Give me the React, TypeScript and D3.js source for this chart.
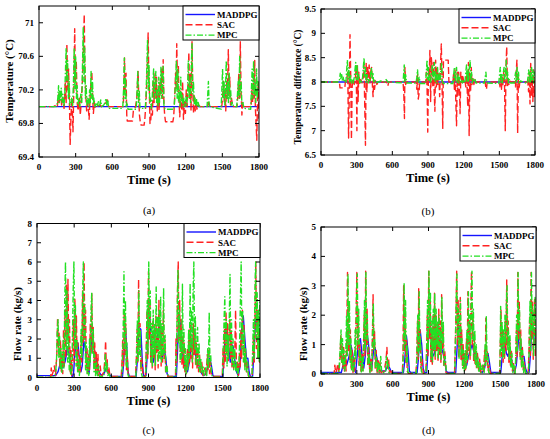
import * as d3 from 'd3';

type Pt = [number, number];

const timeTicks = [0, 300, 600, 900, 1200, 1500, 1800];
const legendNames = ['MADDPG', 'SAC', 'MPC'];

// (a) supply temperature
const tempTicks = [69.4, 69.8, 70.2, 70.6, 71];
const aMADDPG: Pt[] = [[0, 70], [1640, 70], [1650, 70.01], [1660, 70], [1800, 70]];
const aSAC: Pt[] = [
  [0, 70], [120, 70], [140, 70.02], [150, 70.0], [160, 70.15], [165, 70.05], [175, 70.18], [185, 70.02], [195, 70.1], [205, 69.98],
  [215, 70.3], [222, 70.05], [228, 70.75], [235, 70.2], [242, 70.45], [250, 69.98], [255, 69.55], [262, 69.9], [270, 70.1], [278, 69.7],
  [285, 70.2], [292, 70.93], [298, 70.3], [305, 70.55], [312, 70.05], [320, 69.95], [330, 70.1], [338, 69.9], [345, 70.05], [355, 70.3],
  [362, 70.6], [370, 71.1], [376, 70.4], [382, 70.15], [390, 69.95], [400, 70.05], [410, 69.85], [418, 70.1], [425, 70.3], [432, 70.42],
  [438, 70.15], [445, 69.92], [452, 70.05], [460, 69.98], [470, 70.0], [500, 70.02], [510, 70.0], [550, 70.05], [560, 70.08], [570, 70.0],
  [690, 70.0], [695, 70.3], [700, 70.58], [705, 70.2], [712, 70.4], [718, 69.9], [722, 69.83], [765, 69.83], [772, 69.95], [790, 70.0],
  [800, 70.1], [806, 70.3], [811, 70.42], [816, 70.1], [822, 69.9], [830, 69.8], [836, 69.78], [860, 69.78], [866, 69.85], [875, 70.05],
  [882, 70.3], [888, 70.6], [893, 70.88], [898, 70.4], [903, 70.2], [908, 69.8], [915, 69.85], [920, 70.0], [928, 69.9], [935, 70.3],
  [942, 70.05], [950, 70.4], [956, 70.1], [962, 70.35], [968, 69.95], [975, 70.2], [982, 69.95], [990, 70.3], [997, 70.15], [1005, 70.45],
  [1011, 70.1], [1016, 70.56], [1022, 70.05], [1028, 69.9], [1035, 69.82], [1095, 69.82], [1102, 69.88], [1110, 70.1], [1117, 70.4], [1122, 70.2],
  [1127, 70.75], [1133, 70.3], [1140, 70.5], [1146, 70.05], [1152, 69.88], [1160, 70.2], [1167, 69.95], [1175, 70.3], [1182, 69.85], [1190, 70.05],
  [1198, 69.92], [1205, 70.2], [1212, 70.0], [1220, 70.3], [1226, 70.65], [1232, 70.1], [1238, 70.4], [1244, 69.95], [1252, 70.78], [1258, 70.2],
  [1264, 69.92], [1270, 70.15], [1278, 69.95], [1285, 70.08], [1292, 69.97], [1300, 70.02], [1320, 70.0], [1380, 70.0], [1388, 70.05], [1395, 70.0],
  [1495, 70.0], [1502, 70.1], [1510, 70.3], [1516, 70.05], [1522, 70.2], [1528, 69.95], [1535, 70.3], [1541, 70.1], [1549, 70.68], [1555, 70.15],
  [1561, 70.35], [1567, 70.02], [1575, 70.1], [1585, 70.0], [1620, 70.0], [1628, 70.15], [1635, 70.4], [1641, 70.1], [1647, 70.78], [1653, 70.2],
  [1660, 69.9], [1667, 70.05], [1675, 70.0], [1735, 70.0], [1742, 70.2], [1748, 70.05], [1755, 70.35], [1761, 70.1], [1765, 70.55], [1770, 70.0],
  [1776, 69.8], [1782, 69.6], [1788, 70.1], [1794, 70.3], [1800, 69.85],
];
const aMPC: Pt[] = [
  [0, 70], [140, 70], [148, 70.02], [155, 70.12], [160, 70.25], [165, 70.05], [170, 70.2], [176, 70.08], [182, 70.22], [188, 70.05],
  [195, 70.15], [202, 70.0], [210, 70.1], [216, 70.4], [222, 70.7], [228, 70.3], [234, 70.55], [240, 70.1], [247, 70.3], [253, 70.02],
  [260, 70.05], [268, 70.1], [275, 70.0], [282, 70.3], [288, 70.7], [294, 70.2], [300, 70.6], [306, 70.1], [312, 70.25], [318, 70.02],
  [326, 70.1], [334, 70.0], [342, 70.15], [350, 70.05], [356, 70.5], [362, 70.95], [368, 70.3], [374, 70.7], [380, 70.1], [386, 70.25],
  [392, 70.02], [400, 70.1], [408, 70.0], [414, 70.2], [420, 70.05], [426, 70.42], [432, 70.1], [438, 70.3], [444, 70.02], [450, 70.1],
  [458, 70.0], [468, 70.05], [476, 70.0], [486, 70.06], [495, 70.0], [505, 70.08], [512, 70.0], [530, 70.02], [540, 70.05], [548, 70.1],
  [555, 70.02], [562, 70.08], [570, 69.98], [685, 69.98], [692, 70.2], [698, 70.58], [703, 70.1], [708, 70.35], [714, 70.0], [720, 70.05],
  [728, 69.97], [795, 69.97], [802, 70.15], [808, 70.42], [814, 70.05], [820, 70.2], [826, 69.98], [870, 69.98], [876, 70.15], [882, 70.45],
  [888, 70.8], [894, 70.2], [900, 70.5], [906, 70.05], [912, 70.1], [918, 69.98], [926, 70.1], [932, 70.3], [938, 70.45], [944, 70.1],
  [950, 70.3], [956, 70.42], [962, 70.05], [968, 70.2], [974, 70.0], [980, 70.35], [986, 70.05], [992, 70.2], [998, 70.48], [1004, 70.1],
  [1010, 70.3], [1016, 70.48], [1022, 70.02], [1030, 69.97], [1105, 69.97], [1112, 70.15], [1118, 70.3], [1124, 70.55], [1130, 70.1], [1136, 70.45],
  [1142, 70.05], [1148, 70.2], [1154, 70.0], [1160, 70.35], [1166, 70.05], [1172, 70.15], [1178, 70.0], [1186, 70.1], [1194, 70.0], [1202, 70.12],
  [1210, 70.02], [1216, 70.2], [1222, 70.55], [1228, 70.1], [1234, 70.3], [1240, 70.05], [1246, 70.5], [1252, 70.75], [1258, 70.15], [1264, 70.3],
  [1270, 70.02], [1276, 70.12], [1282, 70.02], [1288, 70.1], [1294, 70.0], [1302, 70.05], [1312, 70.0], [1375, 70.0], [1381, 70.15], [1386, 70.3],
  [1391, 70.05], [1398, 70.0], [1490, 69.97], [1496, 70.2], [1502, 70.45], [1508, 70.1], [1514, 70.3], [1520, 70.02], [1526, 70.2], [1532, 70.55],
  [1538, 70.1], [1544, 70.3], [1550, 70.05], [1556, 70.4], [1562, 70.1], [1568, 70.2], [1574, 70.02], [1582, 70.05], [1592, 70.0], [1618, 70.0],
  [1624, 70.15], [1630, 70.3], [1636, 70.1], [1642, 70.6], [1648, 70.15], [1654, 70.3], [1660, 70.02], [1668, 70.05], [1676, 69.98], [1732, 69.97],
  [1738, 70.2], [1744, 70.45], [1750, 70.1], [1756, 70.55], [1762, 70.15], [1768, 70.3], [1774, 70.05], [1780, 70.45], [1786, 70.1], [1792, 70.3],
  [1800, 70.2],
];

// (b) temperature difference
const diffTicks = [6.5, 7, 7.5, 8, 8.5, 9, 9.5];
const bMADDPG: Pt[] = [[0, 8], [1800, 8]];
const bSAC: Pt[] = [
  [0, 8], [155, 8], [160, 7.88], [200, 7.88], [205, 8.0], [215, 8.05], [225, 8.2], [232, 6.85], [238, 7.8], [244, 8.97],
  [250, 8.1], [256, 6.82], [262, 7.9], [270, 8.05], [280, 7.95], [290, 8.1], [296, 8.3], [302, 7.0], [306, 8.35], [312, 7.6],
  [318, 8.2], [326, 7.95], [335, 8.05], [345, 7.98], [355, 8.1], [362, 8.35], [368, 7.5], [374, 6.7], [380, 8.4], [386, 7.8],
  [392, 8.3], [398, 8.1], [405, 8.35], [412, 7.98], [420, 8.25], [426, 8.3], [432, 7.95], [438, 7.7], [444, 8.05], [450, 7.85],
  [458, 8.02], [470, 7.95], [480, 8.0], [550, 8.0], [556, 7.95], [562, 7.92], [570, 8.0], [690, 8.0], [696, 7.8], [702, 7.25],
  [706, 8.3], [712, 7.95], [720, 8.0], [800, 8.0], [806, 7.85], [812, 8.15], [818, 7.65], [824, 7.75], [830, 8.0], [880, 8.0],
  [886, 8.2], [892, 7.9], [898, 6.97], [904, 8.3], [910, 8.1], [916, 8.65], [922, 7.6], [928, 8.5], [934, 8.3], [940, 7.9],
  [946, 8.4], [952, 7.8], [958, 7.4], [964, 8.45], [970, 7.9], [976, 8.3], [982, 7.95], [990, 8.2], [998, 7.7], [1006, 8.4],
  [1012, 8.78], [1018, 8.0], [1024, 7.05], [1030, 8.45], [1070, 8.45], [1076, 8.0], [1110, 8.0], [1116, 8.2], [1122, 7.85], [1128, 8.25],
  [1134, 7.6], [1140, 7.1], [1146, 8.2], [1152, 7.7], [1158, 8.2], [1164, 7.95], [1170, 7.35], [1176, 8.2], [1184, 7.95], [1192, 8.15],
  [1200, 8.0], [1210, 8.05], [1218, 7.9], [1226, 8.15], [1234, 7.5], [1240, 8.4], [1246, 6.9], [1252, 8.2], [1258, 7.8], [1264, 8.3],
  [1270, 7.95], [1278, 8.1], [1286, 7.95], [1294, 8.05], [1302, 8.0], [1380, 8.0], [1386, 7.9], [1392, 7.85], [1398, 8.0], [1500, 8.0],
  [1506, 7.9], [1512, 8.15], [1518, 7.85], [1524, 8.1], [1530, 7.95], [1538, 8.25], [1544, 7.9], [1550, 7.0], [1556, 8.3], [1562, 8.72],
  [1568, 7.9], [1574, 8.1], [1580, 7.95], [1590, 8.02], [1600, 8.0], [1630, 8.0], [1636, 7.9], [1642, 8.2], [1648, 8.45], [1654, 6.95],
  [1660, 8.1], [1666, 7.85], [1672, 8.0], [1740, 8.0], [1746, 7.8], [1752, 8.2], [1758, 7.55], [1764, 8.38], [1770, 7.7], [1776, 8.1],
  [1782, 7.6], [1788, 8.25], [1794, 7.7], [1800, 8.1],
];
const bMPC: Pt[] = [
  [0, 8], [150, 8], [156, 8.05], [162, 8.18], [168, 8.05], [174, 8.15], [180, 8.02], [186, 8.1], [194, 8.0], [202, 8.05],
  [210, 8.0], [216, 8.25], [222, 8.45], [228, 8.05], [234, 8.3], [240, 8.0], [248, 8.15], [256, 7.98], [264, 8.05], [272, 7.98],
  [280, 8.1], [286, 8.25], [292, 8.4], [298, 8.05], [304, 8.35], [310, 8.02], [318, 8.15], [326, 7.98], [334, 8.05], [342, 8.0],
  [350, 8.1], [356, 8.3], [362, 8.5], [368, 8.1], [374, 8.3], [380, 8.0], [388, 8.15], [396, 7.98], [404, 8.05], [412, 8.0],
  [418, 8.2], [424, 8.3], [430, 8.05], [436, 8.2], [442, 8.0], [450, 8.05], [460, 7.98], [480, 8.0], [500, 8.02], [540, 8.0],
  [548, 8.05], [556, 8.02], [564, 8.0], [690, 7.98], [696, 8.2], [700, 8.35], [706, 8.0], [712, 8.15], [720, 7.98], [800, 7.98],
  [806, 8.1], [812, 8.25], [818, 8.0], [826, 8.1], [834, 7.97], [880, 7.97], [886, 8.2], [892, 8.45], [898, 8.05], [904, 8.3],
  [910, 8.0], [916, 8.15], [922, 7.98], [930, 8.2], [936, 8.35], [942, 8.05], [948, 8.2], [954, 8.4], [960, 8.0], [966, 8.2],
  [972, 7.98], [980, 8.3], [986, 8.05], [994, 8.2], [1000, 7.98], [1008, 8.25], [1014, 8.4], [1020, 8.02], [1028, 7.97], [1110, 7.97],
  [1116, 8.15], [1122, 8.3], [1128, 8.0], [1134, 8.25], [1140, 8.3], [1146, 8.0], [1152, 8.15], [1158, 7.98], [1166, 8.1], [1172, 8.0],
  [1180, 8.05], [1190, 7.98], [1200, 8.05], [1210, 7.98], [1218, 8.2], [1224, 8.35], [1230, 8.0], [1236, 8.25], [1242, 8.02], [1248, 8.3],
  [1254, 8.45], [1260, 8.05], [1266, 8.2], [1272, 7.98], [1280, 8.08], [1288, 8.0], [1296, 8.05], [1304, 7.98], [1375, 7.98], [1381, 8.1],
  [1387, 8.2], [1393, 8.0], [1400, 7.98], [1495, 7.97], [1502, 8.15], [1508, 8.3], [1514, 8.0], [1520, 8.15], [1526, 7.98], [1534, 8.2],
  [1540, 8.3], [1546, 8.05], [1552, 8.2], [1558, 8.45], [1564, 8.05], [1570, 8.2], [1576, 7.98], [1584, 8.05], [1594, 7.98], [1625, 7.98],
  [1631, 8.1], [1637, 8.2], [1643, 8.0], [1649, 8.3], [1655, 8.05], [1661, 8.2], [1667, 7.98], [1676, 8.02], [1735, 7.97], [1741, 8.1],
  [1747, 8.25], [1753, 8.0], [1759, 8.2], [1765, 7.98], [1771, 8.3], [1777, 8.05], [1783, 8.25], [1789, 7.98], [1795, 8.2], [1800, 8.05],
];

// (c) flow rate, first loop
const flowTicksC = [0, 1, 2, 3, 4, 5, 6, 7, 8];
const cMADDPG: Pt[] = [
  [0, 0.1], [150, 0.1], [170, 0.3], [190, 0.8], [210, 0.5], [230, 0.9], [245, 1.6], [260, 1.2], [275, 0.3], [285, 0.0],
  [295, 0.2], [305, 1.2], [315, 1.8], [330, 1.8], [345, 0.8], [355, 0.3], [365, 0.6], [378, 1.9], [390, 1.5], [405, 0.6],
  [420, 0.2], [435, 1.5], [445, 2.3], [455, 1.7], [470, 1.2], [485, 0.7], [500, 0.3], [520, 0.1], [540, 0.2], [560, 0.5],
  [575, 0.3], [590, 0.1], [610, 0.05], [690, 0.05], [700, 0.8], [712, 2.7], [725, 1.5], [735, 0.3], [745, 0.05], [800, 0.05],
  [810, 0.9], [822, 2.6], [838, 2.5], [850, 0.8], [860, 0.1], [880, 0.1], [890, 1.2], [902, 3.5], [912, 3.0], [925, 1.2],
  [940, 0.8], [955, 1.5], [970, 2.0], [985, 2.8], [998, 2.2], [1010, 1.0], [1025, 1.5], [1040, 1.0], [1050, 0.2], [1060, 0.05],
  [1125, 0.05], [1135, 1.5], [1145, 3.0], [1158, 2.8], [1170, 1.5], [1185, 0.8], [1200, 0.4], [1215, 0.3], [1230, 0.8], [1245, 1.8],
  [1258, 2.0], [1270, 1.4], [1285, 1.0], [1300, 0.8], [1315, 0.4], [1330, 0.2], [1345, 0.1], [1365, 0.2], [1380, 0.6], [1395, 1.0],
  [1408, 0.6], [1420, 0.1], [1430, 0.05], [1500, 0.05], [1510, 1.2], [1522, 2.5], [1535, 2.2], [1548, 1.5], [1560, 0.8], [1572, 1.7],
  [1585, 1.6], [1598, 0.8], [1610, 0.3], [1625, 0.1], [1640, 0.6], [1652, 2.5], [1665, 3.2], [1678, 2.0], [1690, 1.0], [1702, 1.0],
  [1712, 0.3], [1722, 0.05], [1740, 0.05], [1752, 1.5], [1765, 3.0], [1778, 2.8], [1790, 2.2], [1800, 2.5],
];
const cSAC: Pt[] = [
  [0, 0], [110, 0], [115, 0.5], [120, 0.1], [130, 0.3], [140, 0.6], [150, 0.1], [160, 1.2], [166, 3.1], [172, 1.5],
  [178, 2.3], [184, 0.5], [190, 1.9], [196, 0.3], [202, 1.2], [208, 0.2], [214, 2.5], [220, 0.6], [226, 3.5], [232, 1.0],
  [238, 4.8], [244, 2.0], [250, 5.1], [256, 1.5], [262, 3.0], [268, 0.3], [274, 1.5], [280, 0.1], [288, 1.0], [294, 3.0],
  [300, 0.8], [306, 4.1], [312, 1.5], [318, 3.2], [324, 0.6], [330, 1.8], [336, 0.3], [344, 1.2], [350, 0.2], [356, 2.2],
  [362, 0.8], [368, 4.5], [374, 1.8], [380, 6.0], [386, 2.0], [392, 3.5], [398, 0.5], [404, 1.5], [410, 0.2], [418, 1.2],
  [424, 0.4], [430, 2.8], [436, 1.2], [442, 4.4], [448, 1.5], [454, 2.6], [460, 0.5], [466, 1.8], [472, 0.3], [478, 1.3],
  [484, 0.2], [492, 1.2], [498, 0.1], [510, 0.6], [520, 0.05], [540, 0.3], [548, 1.0], [554, 1.9], [560, 0.4], [566, 1.0],
  [572, 0.2], [580, 0.5], [590, 0.05], [680, 0.05], [686, 0.8], [692, 2.0], [698, 0.6], [704, 3.5], [710, 1.2], [716, 2.8],
  [722, 0.4], [728, 1.2], [736, 0.05], [795, 0.05], [802, 1.0], [808, 2.5], [814, 0.8], [820, 5.1], [826, 1.5], [832, 2.8],
  [838, 0.4], [846, 1.0], [856, 0.05], [875, 0.05], [882, 1.5], [888, 3.5], [894, 1.0], [900, 5.5], [906, 2.0], [912, 4.0],
  [918, 0.8], [924, 2.2], [930, 0.5], [936, 3.0], [942, 1.0], [948, 2.5], [954, 0.4], [960, 3.2], [966, 1.2], [972, 2.0],
  [978, 0.5], [984, 4.0], [990, 1.5], [996, 3.0], [1002, 0.6], [1008, 2.5], [1014, 0.8], [1020, 3.5], [1026, 1.0], [1032, 2.0],
  [1038, 0.3], [1046, 0.6], [1056, 0.05], [1118, 0.05], [1122, 2.0], [1128, 0.8], [1134, 4.5], [1140, 6.0], [1146, 2.0], [1152, 4.0],
  [1158, 1.0], [1164, 3.0], [1170, 0.6], [1176, 2.2], [1182, 0.5], [1188, 1.8], [1194, 0.3], [1200, 1.0], [1206, 0.2], [1214, 1.5],
  [1220, 0.5], [1226, 2.5], [1232, 0.8], [1238, 2.8], [1244, 1.0], [1250, 2.0], [1256, 0.5], [1262, 2.8], [1268, 1.2], [1274, 2.5],
  [1280, 0.6], [1286, 1.8], [1292, 0.4], [1298, 1.5], [1304, 0.3], [1312, 1.2], [1320, 0.2], [1330, 0.8], [1340, 0.1], [1355, 0.5],
  [1365, 0.1], [1375, 1.2], [1381, 0.4], [1387, 1.5], [1393, 0.2], [1400, 0.8], [1408, 0.1], [1420, 0.05], [1495, 0.05], [1502, 1.5],
  [1508, 0.5], [1514, 2.5], [1520, 0.8], [1526, 3.4], [1532, 1.2], [1538, 2.8], [1544, 0.8], [1550, 2.0], [1556, 3.0], [1562, 1.0],
  [1568, 2.5], [1574, 0.5], [1580, 1.5], [1588, 0.4], [1596, 1.2], [1603, 3.5], [1610, 0.5], [1618, 0.8], [1626, 0.1], [1634, 1.2],
  [1640, 0.5], [1646, 2.5], [1652, 1.0], [1658, 3.5], [1664, 1.5], [1670, 2.8], [1676, 0.6], [1682, 1.5], [1690, 0.3], [1698, 0.8],
  [1706, 0.1], [1720, 0.05], [1736, 0.05], [1742, 1.0], [1748, 2.2], [1754, 0.8], [1760, 3.1], [1766, 6.0], [1772, 1.5], [1778, 3.5],
  [1784, 1.0], [1790, 2.5], [1796, 0.8], [1800, 2.0],
];
const cMPC: Pt[] = [
  [0, 0.02], [140, 0.02], [150, 0.2], [158, 1.0], [164, 2.5], [170, 3.0], [176, 1.0], [182, 2.2], [188, 0.4], [194, 1.5],
  [200, 0.2], [206, 1.0], [212, 2.0], [218, 0.5], [224, 4.0], [230, 6.0], [236, 1.5], [242, 4.5], [248, 0.8], [254, 3.0],
  [260, 0.4], [266, 1.2], [272, 0.1], [280, 0.2], [286, 2.0], [292, 4.5], [298, 6.0], [304, 1.5], [310, 3.8], [316, 0.6],
  [322, 2.0], [328, 0.3], [336, 1.0], [342, 0.1], [350, 0.8], [356, 2.5], [362, 1.0], [368, 4.2], [374, 6.0], [380, 2.0],
  [386, 3.8], [392, 0.4], [398, 1.8], [404, 0.2], [412, 1.0], [418, 0.1], [424, 2.0], [430, 0.8], [436, 3.5], [442, 4.4],
  [448, 1.2], [454, 2.5], [460, 0.3], [466, 1.2], [472, 0.1], [480, 0.8], [488, 0.1], [496, 0.6], [505, 0.05], [540, 0.05],
  [546, 0.6], [552, 1.2], [558, 0.3], [564, 0.8], [572, 0.1], [582, 0.2], [590, 0.02], [685, 0.02], [691, 1.2], [697, 3.0],
  [702, 5.5], [708, 1.5], [714, 4.0], [720, 0.6], [726, 1.8], [732, 0.2], [740, 0.02], [798, 0.02], [804, 1.2], [810, 3.0],
  [816, 0.8], [822, 4.5], [828, 1.2], [834, 2.4], [840, 0.3], [850, 0.02], [878, 0.02], [884, 2.0], [890, 4.0], [896, 1.2],
  [902, 6.0], [908, 2.5], [914, 4.5], [920, 0.8], [926, 2.8], [932, 0.6], [938, 3.5], [944, 1.2], [950, 2.8], [956, 0.6],
  [962, 4.7], [968, 1.5], [974, 3.2], [980, 0.8], [986, 3.5], [992, 1.0], [998, 4.2], [1004, 0.8], [1010, 2.8], [1016, 1.0],
  [1022, 4.65], [1028, 1.2], [1034, 2.2], [1040, 0.3], [1048, 0.6], [1058, 0.02], [1120, 0.02], [1126, 1.5], [1132, 3.5], [1138, 5.6],
  [1144, 1.8], [1150, 3.5], [1156, 0.8], [1162, 2.5], [1168, 1.0], [1174, 4.85], [1180, 1.2], [1186, 2.5], [1192, 0.4], [1198, 1.5],
  [1204, 0.2], [1212, 1.2], [1218, 0.4], [1224, 2.5], [1230, 1.0], [1236, 4.9], [1242, 1.5], [1248, 3.5], [1254, 0.8], [1260, 4.5],
  [1266, 6.0], [1272, 1.5], [1278, 3.2], [1284, 0.6], [1290, 1.5], [1296, 2.6], [1302, 0.5], [1308, 1.8], [1314, 0.3], [1322, 1.0],
  [1330, 0.2], [1340, 0.6], [1350, 0.05], [1362, 0.5], [1370, 0.1], [1378, 1.5], [1384, 0.5], [1390, 3.4], [1396, 0.8], [1402, 1.2],
  [1408, 0.2], [1418, 0.02], [1498, 0.02], [1504, 1.5], [1510, 3.0], [1516, 4.2], [1522, 1.2], [1528, 3.0], [1534, 0.6], [1540, 2.2],
  [1546, 1.0], [1552, 3.0], [1558, 5.35], [1564, 1.2], [1570, 3.0], [1576, 0.6], [1582, 2.0], [1588, 0.4], [1596, 1.5], [1604, 0.3],
  [1612, 0.8], [1620, 0.05], [1630, 0.6], [1636, 2.0], [1642, 4.0], [1648, 6.0], [1654, 1.5], [1660, 3.5], [1666, 0.8], [1672, 2.5],
  [1678, 0.4], [1684, 1.5], [1692, 0.3], [1700, 0.8], [1708, 0.05], [1735, 0.02], [1741, 1.5], [1747, 3.0], [1753, 1.0], [1759, 4.5],
  [1765, 6.0], [1771, 2.0], [1777, 4.4], [1783, 1.0], [1789, 3.5], [1795, 0.8], [1800, 4.0],
];

// (d) flow rate, second loop
const flowTicksD = [0, 1, 2, 3, 4, 5];
const dMADDPG: Pt[] = [
  [0, 0.05], [170, 0.05], [185, 0.3], [200, 0.6], [215, 0.3], [235, 0.6], [250, 1.0], [265, 0.7], [280, 0.15], [290, 0.05],
  [300, 0.5], [315, 1.1], [330, 1.2], [345, 0.6], [358, 0.2], [370, 0.6], [385, 1.4], [398, 1.0], [410, 0.4], [425, 0.2],
  [440, 0.8], [452, 0.9], [465, 0.6], [480, 0.3], [495, 0.1], [540, 0.1], [560, 0.3], [575, 0.2], [590, 0.05], [690, 0.05],
  [700, 0.4], [715, 1.3], [728, 0.8], [740, 0.1], [750, 0.05], [805, 0.05], [815, 0.5], [830, 1.5], [843, 1.0], [855, 0.2],
  [865, 0.05], [885, 0.05], [895, 0.8], [910, 1.85], [922, 1.4], [935, 0.6], [950, 0.7], [965, 1.0], [980, 1.3], [995, 1.4],
  [1008, 0.9], [1022, 0.7], [1035, 0.5], [1048, 0.1], [1060, 0.05], [1128, 0.05], [1138, 0.8], [1150, 1.7], [1163, 1.5], [1176, 0.9],
  [1190, 0.4], [1205, 0.2], [1220, 0.3], [1235, 0.6], [1250, 0.8], [1265, 1.0], [1278, 0.8], [1292, 0.5], [1305, 0.6], [1318, 0.3],
  [1332, 0.1], [1350, 0.05], [1370, 0.2], [1385, 0.6], [1398, 0.7], [1410, 0.4], [1422, 0.05], [1505, 0.05], [1515, 0.5], [1525, 1.0],
  [1540, 1.0], [1552, 0.7], [1565, 0.6], [1580, 0.9], [1592, 0.6], [1605, 0.2], [1620, 0.05], [1635, 0.3], [1648, 0.9], [1660, 1.5],
  [1672, 1.0], [1685, 0.6], [1700, 0.6], [1712, 0.2], [1725, 0.05], [1742, 0.05], [1752, 0.6], [1765, 1.5], [1775, 1.6], [1788, 1.0],
  [1800, 1.2],
];
const dSAC: Pt[] = [
  [0, 0], [110, 0], [116, 0.3], [122, 0.05], [130, 0.1], [140, 0.35], [150, 0.05], [160, 0.6], [166, 1.3], [172, 0.4],
  [178, 1.0], [184, 0.2], [190, 0.9], [196, 0.1], [204, 0.6], [210, 0.1], [216, 1.5], [222, 3.45], [228, 0.8], [234, 2.4],
  [240, 0.5], [246, 1.5], [252, 0.2], [260, 0.8], [268, 0.05], [276, 0.6], [282, 0.1], [288, 1.2], [294, 2.0], [300, 3.45],
  [306, 0.8], [312, 2.0], [318, 0.3], [326, 1.0], [334, 0.1], [342, 0.7], [350, 0.05], [356, 1.0], [362, 2.0], [368, 0.6],
  [374, 3.5], [380, 1.0], [386, 2.2], [392, 0.3], [400, 0.9], [408, 0.05], [416, 0.5], [424, 0.1], [430, 1.2], [436, 2.7],
  [442, 0.8], [448, 1.5], [454, 0.2], [462, 0.8], [470, 0.05], [478, 0.5], [486, 0.05], [494, 0.4], [502, 0.05], [530, 0.1],
  [545, 0.5], [552, 0.9], [558, 0.2], [566, 0.5], [574, 0.05], [585, 0.1], [595, 0.02], [680, 0.02], [686, 0.5], [692, 3.0],
  [698, 0.8], [704, 2.2], [710, 0.4], [716, 1.2], [722, 0.1], [732, 0.02], [795, 0.02], [802, 0.6], [808, 1.8], [814, 0.5],
  [818, 2.9], [824, 0.8], [830, 1.5], [836, 0.2], [846, 0.5], [856, 0.02], [878, 0.02], [884, 0.8], [890, 2.0], [896, 0.6],
  [902, 3.5], [908, 1.2], [914, 2.5], [920, 0.4], [926, 1.5], [932, 0.3], [938, 2.0], [944, 0.8], [950, 2.75], [956, 0.5],
  [962, 2.0], [968, 0.8], [974, 1.5], [980, 0.4], [986, 2.2], [992, 0.6], [998, 1.8], [1004, 0.4], [1010, 2.7], [1016, 0.8],
  [1022, 1.5], [1028, 0.3], [1036, 0.8], [1046, 0.05], [1055, 0.02], [1118, 0.02], [1124, 1.0], [1130, 2.0], [1136, 3.5], [1142, 1.0],
  [1148, 2.5], [1154, 0.6], [1160, 1.5], [1166, 2.6], [1172, 0.5], [1178, 1.5], [1184, 0.3], [1190, 1.0], [1196, 0.2], [1204, 0.7],
  [1210, 0.1], [1218, 1.2], [1224, 0.4], [1230, 2.8], [1236, 0.8], [1242, 1.8], [1248, 0.5], [1254, 2.0], [1260, 3.5], [1266, 1.0],
  [1272, 2.0], [1278, 0.4], [1284, 1.2], [1290, 0.3], [1296, 0.9], [1302, 0.2], [1310, 0.7], [1318, 0.1], [1328, 0.5], [1336, 0.05],
  [1350, 0.3], [1360, 0.05], [1370, 0.8], [1376, 0.3], [1380, 1.9], [1386, 0.4], [1392, 0.8], [1398, 0.1], [1408, 0.3], [1418, 0.02],
  [1495, 0.02], [1501, 1.0], [1507, 2.2], [1513, 0.6], [1519, 1.5], [1525, 0.4], [1531, 1.2], [1537, 0.5], [1543, 1.8], [1549, 0.8],
  [1555, 3.2], [1561, 1.0], [1567, 1.8], [1573, 0.4], [1579, 1.2], [1586, 0.3], [1594, 0.8], [1602, 0.1], [1610, 0.4], [1620, 0.02],
  [1630, 0.4], [1636, 1.5], [1642, 0.6], [1648, 3.45], [1654, 1.2], [1660, 2.5], [1666, 0.6], [1672, 1.5], [1678, 0.3], [1686, 0.9],
  [1694, 0.1], [1702, 0.4], [1712, 0.02], [1735, 0.02], [1741, 0.8], [1747, 2.0], [1753, 0.6], [1759, 3.45], [1765, 1.2], [1771, 2.5],
  [1777, 0.5], [1783, 1.8], [1789, 2.6], [1795, 0.6], [1800, 1.5],
];
const dMPC: Pt[] = [
  [0, 0.02], [150, 0.02], [156, 0.5], [162, 1.0], [168, 1.5], [174, 0.4], [180, 1.2], [186, 0.2], [192, 0.8], [200, 0.1],
  [208, 0.8], [214, 2.0], [220, 0.6], [226, 3.4], [232, 1.0], [238, 2.5], [244, 0.4], [250, 1.2], [256, 0.1], [264, 0.6],
  [272, 0.05], [280, 0.4], [286, 1.5], [292, 0.5], [298, 2.8], [304, 3.4], [310, 1.0], [316, 2.2], [322, 0.3], [330, 0.8],
  [338, 0.05], [346, 0.6], [352, 0.1], [358, 1.2], [364, 2.5], [370, 0.8], [376, 3.45], [382, 1.2], [388, 2.0], [394, 0.3],
  [402, 0.7], [410, 0.05], [418, 0.4], [426, 0.1], [432, 1.5], [438, 2.4], [444, 0.8], [450, 1.2], [456, 0.2], [464, 0.6],
  [472, 0.05], [480, 0.4], [488, 0.05], [500, 0.6], [508, 0.05], [540, 0.05], [548, 0.6], [554, 0.3], [560, 0.5], [568, 0.05],
  [590, 0.02], [684, 0.02], [690, 0.8], [696, 3.1], [702, 1.0], [708, 2.5], [714, 0.4], [720, 1.0], [728, 0.05], [798, 0.02],
  [804, 0.8], [810, 2.0], [816, 0.6], [822, 2.8], [828, 0.8], [834, 1.2], [840, 0.1], [850, 0.02], [880, 0.02], [886, 1.0],
  [892, 2.5], [898, 0.8], [904, 3.5], [910, 1.5], [916, 2.8], [922, 0.5], [928, 1.8], [934, 0.4], [940, 2.2], [946, 0.8],
  [952, 2.75], [958, 0.6], [964, 2.2], [970, 1.0], [976, 1.8], [982, 0.5], [988, 2.0], [994, 0.8], [1000, 1.5], [1006, 0.5],
  [1012, 2.6], [1018, 1.0], [1024, 1.8], [1030, 0.3], [1040, 0.6], [1050, 0.02], [1120, 0.02], [1126, 1.2], [1132, 2.5], [1138, 3.4],
  [1144, 1.2], [1150, 2.2], [1156, 0.5], [1162, 2.0], [1168, 2.5], [1174, 0.6], [1180, 1.2], [1186, 0.2], [1192, 0.8], [1200, 0.1],
  [1208, 0.8], [1214, 0.2], [1222, 1.5], [1228, 0.5], [1234, 2.8], [1240, 1.0], [1246, 2.0], [1252, 0.6], [1258, 2.5], [1264, 3.5],
  [1270, 1.2], [1276, 2.2], [1282, 0.5], [1288, 1.5], [1294, 0.3], [1300, 1.0], [1306, 0.2], [1314, 0.6], [1322, 0.05], [1332, 0.4],
  [1342, 0.05], [1356, 0.3], [1366, 0.05], [1374, 1.0], [1380, 0.3], [1384, 1.95], [1390, 0.5], [1396, 0.7], [1404, 0.05], [1415, 0.02],
  [1498, 0.02], [1504, 2.3], [1510, 0.8], [1516, 1.8], [1522, 0.5], [1528, 1.5], [1534, 0.6], [1540, 2.0], [1546, 1.0], [1552, 2.5],
  [1558, 3.0], [1564, 0.8], [1570, 1.5], [1576, 0.5], [1582, 1.3], [1590, 0.2], [1598, 0.7], [1606, 0.05], [1616, 0.3], [1625, 0.02],
  [1632, 0.8], [1638, 2.0], [1644, 0.8], [1650, 3.45], [1656, 1.5], [1662, 2.2], [1668, 0.5], [1674, 1.2], [1680, 0.2], [1688, 0.8],
  [1696, 0.05], [1704, 0.3], [1714, 0.02], [1738, 0.02], [1744, 1.2], [1750, 2.5], [1756, 0.8], [1762, 3.45], [1768, 1.5], [1774, 2.2],
  [1780, 0.6], [1786, 2.0], [1792, 2.6], [1798, 0.8], [1800, 1.2],
];

const lineStyles = [
  { color: '#1414ff', dash: undefined as string | undefined, width: 1.4 },
  { color: '#ff2222', dash: '7,3', width: 1.4 },
  { color: '#22e022', dash: '6,2,1.5,2', width: 1.4 },
];

const FONT = '"Liberation Serif", "Times New Roman", serif';

interface PanelProps {
  left: number;
  right: number;
  top: number;
  bottom: number;
  domain: [number, number];
  yTicks: number[];
  series: Pt[][];
  yLabel: string;
  yLabelX: number;
  yLabelY: number;
  yLabelSize: number;
  timeY: number;
  caption: string;
  captionY: number;
  id: string;
}

function Panel(p: PanelProps) {
  const x = d3.scaleLinear().domain([0, 1800]).range([p.left, p.right]);
  const y = d3.scaleLinear().domain(p.domain).range([p.bottom, p.top]);
  const line = d3.line<Pt>().x((d) => x(d[0])).y((d) => y(d[1]));
  const fmt = d3.format('~g');
  const legX = p.right - 76;
  const legY = p.top;
  const mid = (p.left + p.right) / 2;

  return (
    <g>
      <defs>
        <clipPath id={`clip-${p.id}`}>
          <rect x={p.left} y={p.top} width={p.right - p.left} height={p.bottom - p.top} />
        </clipPath>
      </defs>
      <g clipPath={`url(#clip-${p.id})`}>
        {p.series.map((s, i) => (
          <path
            key={i}
            d={line(s) ?? ''}
            fill="none"
            stroke={lineStyles[i].color}
            strokeWidth={lineStyles[i].width}
            strokeDasharray={lineStyles[i].dash}
            strokeLinejoin="round"
          />
        ))}
      </g>
      <rect x={p.left} y={p.top} width={p.right - p.left} height={p.bottom - p.top} fill="none" stroke="#000" strokeWidth={1} />
      {timeTicks.map((t) => (
        <g key={`x${t}`}>
          <line x1={x(t)} x2={x(t)} y1={p.bottom} y2={p.bottom - 4} stroke="#000" />
          <line x1={x(t)} x2={x(t)} y1={p.top} y2={p.top + 4} stroke="#000" />
          <text x={x(t)} y={p.bottom + 13} textAnchor="middle" fontSize={9} fontWeight="bold" fontFamily={FONT}>
            {t}
          </text>
        </g>
      ))}
      {p.yTicks.map((v) => (
        <g key={`y${v}`}>
          <line x1={p.left} x2={p.left + 4} y1={y(v)} y2={y(v)} stroke="#000" />
          <line x1={p.right} x2={p.right - 4} y1={y(v)} y2={y(v)} stroke="#000" />
          <text x={p.left - 5} y={y(v) + 3} textAnchor="end" fontSize={9} fontWeight="bold" fontFamily={FONT}>
            {fmt(v)}
          </text>
        </g>
      ))}
      <text x={mid} y={p.timeY} textAnchor="middle" fontSize={12.5} fontWeight="bold" fontFamily={FONT}>
        Time (s)
      </text>
      <text
        transform={`translate(${p.yLabelX},${p.yLabelY}) rotate(-90)`}
        textAnchor="middle"
        dominantBaseline="central"
        fontSize={p.yLabelSize}
        fontWeight="bold"
        fontFamily={FONT}
      >
        {p.yLabel}
      </text>
      <text x={mid} y={p.captionY} textAnchor="middle" fontSize={11} fontFamily={FONT}>
        {p.caption}
      </text>
      <rect x={legX} y={legY} width={76} height={34} fill="#fff" stroke="#000" strokeWidth={1} />
      {legendNames.map((name, i) => {
        const ly = legY + 8.5 + i * 10.3;
        return (
          <g key={name}>
            <line
              x1={legX + 2.5}
              x2={legX + 32}
              y1={ly}
              y2={ly}
              stroke={lineStyles[i].color}
              strokeWidth={lineStyles[i].width}
              strokeDasharray={lineStyles[i].dash}
            />
            <text x={legX + 34} y={ly + 3.2} fontSize={9} fontWeight="bold" fontFamily={FONT}>
              {name}
            </text>
          </g>
        );
      })}
    </g>
  );
}

export default function App() {
  return (
    <svg width={550} height={439} style={{ position: 'absolute', left: 0, top: 0, background: '#fff' }}>
      <Panel
        id="a"
        left={39}
        right={259}
        top={6}
        bottom={157}
        domain={[69.4, 71.2]}
        yTicks={tempTicks}
        series={[aMADDPG, aSAC, aMPC]}
        yLabel="Temperature (°C)"
        yLabelX={9}
        yLabelY={81}
        yLabelSize={11}
        timeY={184}
        caption="(a)"
        captionY={214}
      />
      <Panel
        id="b"
        left={321}
        right={535}
        top={9}
        bottom={155}
        domain={[6.5, 9.5]}
        yTicks={diffTicks}
        series={[bMADDPG, bSAC, bMPC]}
        yLabel="Temperature difference (°C)"
        yLabelX={298}
        yLabelY={87}
        yLabelSize={9.5}
        timeY={182}
        caption="(b)"
        captionY={215}
      />
      <Panel
        id="c"
        left={37}
        right={260}
        top={223.5}
        bottom={377.5}
        domain={[0, 8]}
        yTicks={flowTicksC}
        series={[cMADDPG, cSAC, cMPC]}
        yLabel="Flow rate (kg/s)"
        yLabelX={17}
        yLabelY={324}
        yLabelSize={11}
        timeY={405}
        caption="(c)"
        captionY={434}
      />
      <Panel
        id="d"
        left={321}
        right={536}
        top={227}
        bottom={374}
        domain={[0, 5]}
        yTicks={flowTicksD}
        series={[dMADDPG, dSAC, dMPC]}
        yLabel="Flow rate (kg/s)"
        yLabelX={303}
        yLabelY={324}
        yLabelSize={11}
        timeY={401}
        caption="(d)"
        captionY={434}
      />
    </svg>
  );
}
